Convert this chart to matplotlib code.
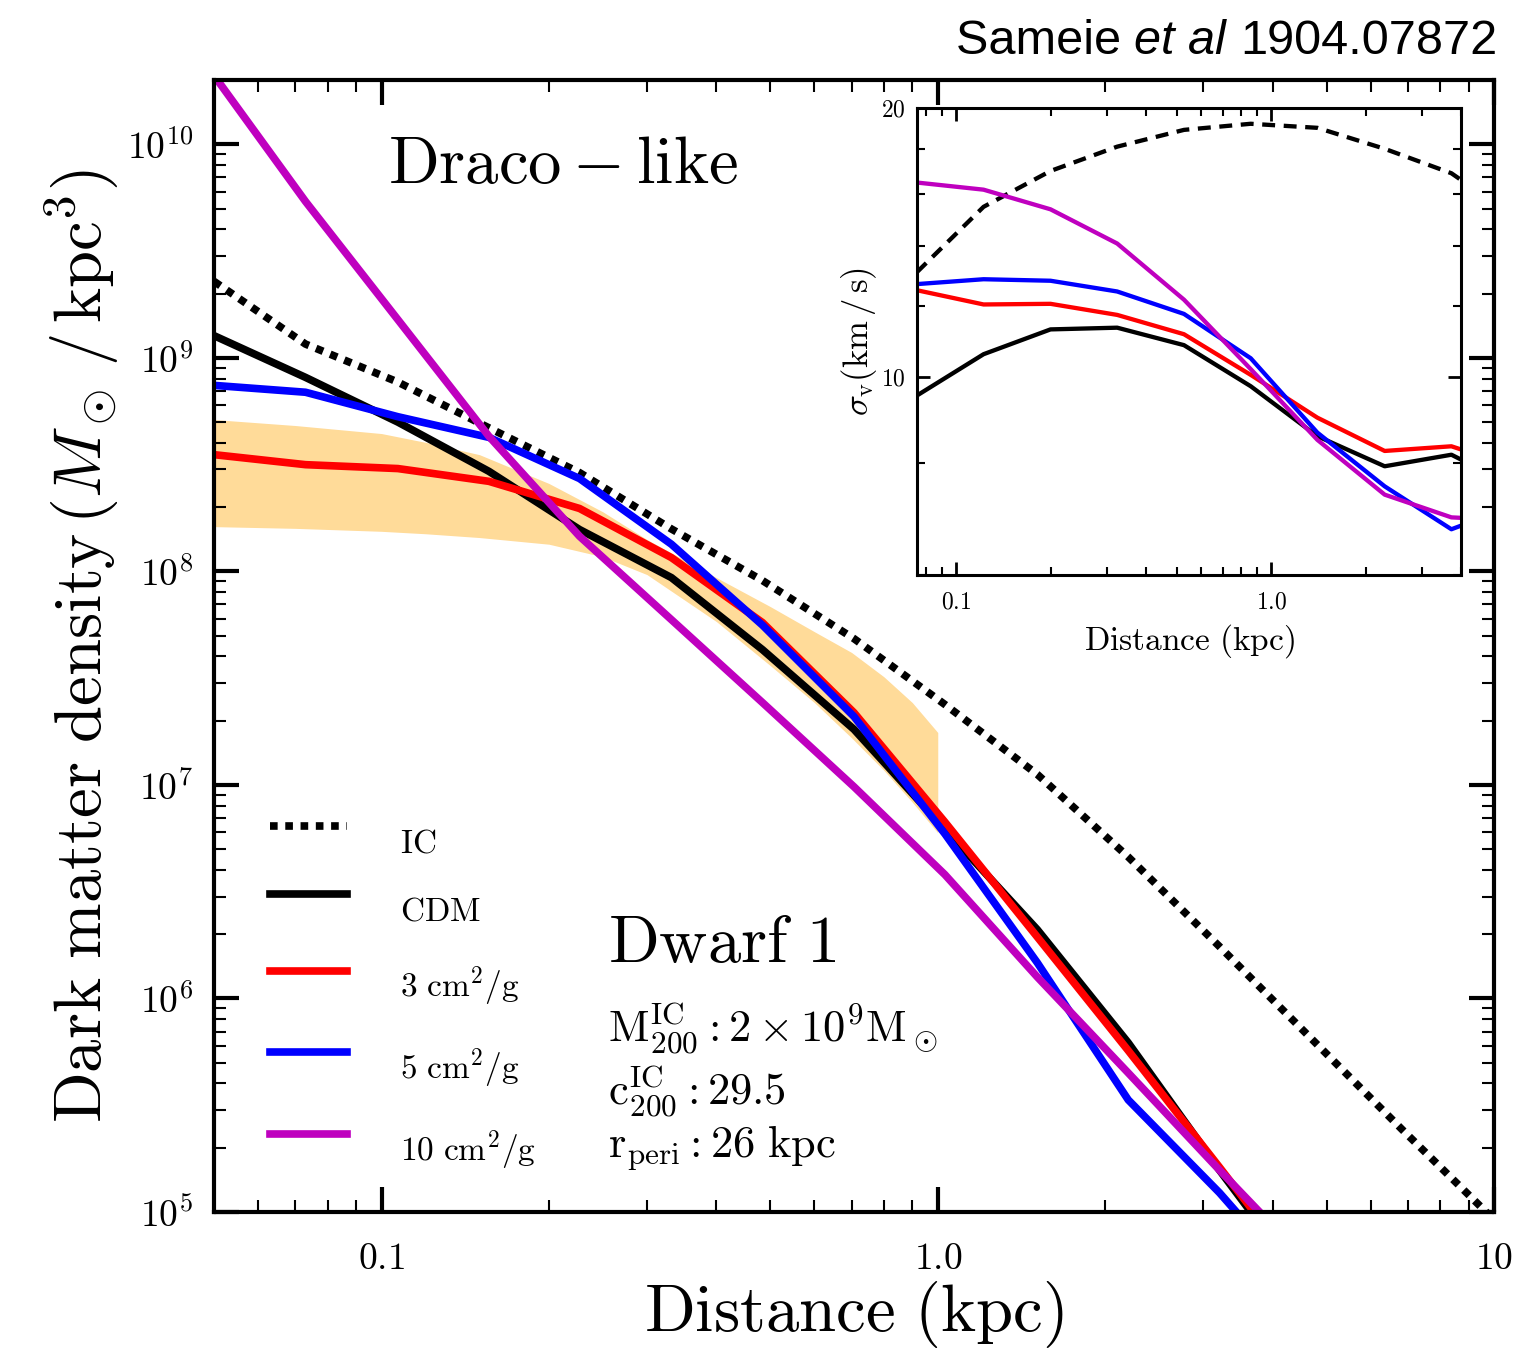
import matplotlib
matplotlib.use("Agg")
import numpy as np
import matplotlib.pyplot as plt
from matplotlib.ticker import FixedLocator, NullFormatter, LogLocator
from matplotlib.legend_handler import HandlerLine2D
from matplotlib.lines import Line2D

plt.rcParams['mathtext.fontset'] = 'cm'
plt.rcParams['font.family'] = 'serif'
plt.rcParams['font.serif'] = ['cmr10', 'DejaVu Serif']
plt.rcParams['axes.formatter.use_mathtext'] = True

# main panel: density profiles (kpc, Msun/kpc^3)
r = [0.050, 0.073, 0.107, 0.156, 0.227, 0.332, 0.484, 0.707, 1.03, 1.51, 2.20, 3.21, 4.69, 6.85, 10.0]
rho_ic = [2.28e9, 1.16e9, 7.7e8, 4.7e8, 2.9e8, 1.58e8, 9.06e7, 4.84e7, 2.38e7, 1.12e7, 4.6e6, 1.75e6, 6.5e5, 2.42e5, 9.2e4]
rho_cdm = [1.27e9, 8.1e8, 5.0e8, 2.94e8, 1.57e8, 9.35e7, 4.3e7, 1.82e7, 6.2e6, 2.1e6, 6.2e5, 1.57e5, 4.2e4]
rho_s3 = [3.52e8, 3.16e8, 3.03e8, 2.64e8, 1.97e8, 1.16e8, 5.76e7, 2.18e7, 6.7e6, 1.94e6, 5.7e5, 1.62e5, 4.5e4]
rho_s5 = [7.43e8, 6.9e8, 5.3e8, 4.24e8, 2.72e8, 1.34e8, 5.6e7, 2.09e7, 5.9e6, 1.47e6, 3.35e5, 1.23e5, 4.0e4]
rho_s10 = [2.1e10, 5.4e9, 1.51e9, 4.29e8, 1.46e8, 5.94e7, 2.43e7, 9.8e6, 3.8e6, 1.26e6, 4.48e5, 1.57e5, 5.6e4]

# observational band for Draco
band_r = [0.05, 0.07, 0.1, 0.12, 0.15, 0.2, 0.25, 0.3, 0.4, 0.5, 0.6, 0.7, 0.8, 0.9, 1.0]
band_hi = [5.14e8, 4.82e8, 4.42e8, 4.02e8, 3.52e8, 2.58e8, 1.9e8, 1.41e8, 9.35e7, 6.84e7, 5.22e7, 4.17e7, 3.21e7, 2.43e7, 1.76e7]
band_lo = [1.62e8, 1.59e8, 1.54e8, 1.50e8, 1.44e8, 1.34e8, 1.17e8, 9.66e7, 5.82e7, 3.62e7, 2.43e7, 1.66e7, 1.17e7, 8.3e6, 5.97e6]

# inset: velocity dispersion (km/s)
r_in = [0.075, 0.122, 0.199, 0.324, 0.528, 0.86, 1.40, 2.29, 3.73, 6.08]
sig_ic = [13.1, 15.5, 17.0, 18.1, 18.9, 19.2, 19.0, 18.0, 16.9, 15.0]
sig_cdm = [9.53, 10.6, 11.3, 11.35, 10.85, 9.76, 8.58, 7.94, 8.18, 7.5]
sig_s3 = [12.5, 12.05, 12.07, 11.73, 11.16, 10.05, 9.0, 8.26, 8.36, 7.9]
sig_s5 = [12.7, 12.86, 12.81, 12.46, 11.76, 10.49, 8.66, 7.54, 6.75, 7.2]
sig_s10 = [16.5, 16.2, 15.4, 14.1, 12.2, 10.2, 8.5, 7.38, 6.96, 6.9]

labels = [r'$\mathrm{IC}$', r'$\mathrm{CDM}$', r'$3\ \mathrm{cm^2/g}$',
          r'$5\ \mathrm{cm^2/g}$', r'$10\ \mathrm{cm^2/g}$']


class RaisedLine(HandlerLine2D):
    # legend lines sit a bit above their labels, as in the paper figure
    def create_artists(self, legend, orig_handle, xdescent, ydescent, width, height, fontsize, trans):
        arts = super().create_artists(legend, orig_handle, xdescent, ydescent, width, height, fontsize, trans)
        for a in arts:
            a.set_ydata(np.asarray(a.get_ydata()) + 10.5)
        return arts


fig = plt.figure(figsize=(15.16, 13.56), dpi=100)
ax = fig.add_axes([0.1412, 0.1062, 0.8443, 0.8348])

ax.fill_between(band_r, band_lo, band_hi, color='orange', alpha=0.4, lw=0)
lw = 5.5
ax.plot(r, rho_ic, color='k', lw=lw, ls=(0, (1, 1)), label=labels[0])
ax.plot(r[:len(rho_cdm)], rho_cdm, color='k', lw=lw, label=labels[1])
ax.plot(r[:len(rho_s3)], rho_s3, color='r', lw=lw, label=labels[2])
ax.plot(r[:len(rho_s5)], rho_s5, color='b', lw=lw, label=labels[3])
ax.plot(r[:len(rho_s10)], rho_s10, color='m', lw=lw, label=labels[4])

ax.set_xscale('log')
ax.set_yscale('log')
ax.set_xlim(0.05, 10)
ax.set_ylim(1e5, 2e10)
ax.set_xticks([0.1, 1.0, 10])
ax.set_xticklabels([r'$0.1$', r'$1.0$', r'$10$'])
ax.yaxis.set_major_locator(LogLocator(base=10, numticks=20))
for s in ax.spines.values():
    s.set_linewidth(3)
ax.tick_params(which='both', direction='in', top=True, right=True)
ax.tick_params(which='major', length=18, width=3)
ax.tick_params(which='minor', length=8.5, width=1.5)
ax.tick_params(axis='x', which='major', labelsize=27, pad=22)
ax.tick_params(axis='y', which='major', labelsize=27, pad=15)
ax.set_xlabel(r'$\mathrm{Distance\ (kpc)}$', fontsize=48, labelpad=2)
ax.set_ylabel(r'$\mathrm{Dark\ matter\ density}\,(M_\odot\,/\,\mathrm{kpc}^3)$', fontsize=48, labelpad=4)

ax.text(0.136, 0.909, r'$\mathrm{Draco} - \mathrm{like}$', transform=ax.transAxes, fontsize=48, va='baseline')
ax.text(0.308, 0.221, r'$\mathrm{Dwarf\ 1}$', transform=ax.transAxes, fontsize=48, va='baseline')
ax.text(0.308, 0.150, r'$\mathrm{M_{200}^{IC}: 2\times 10^9 M_\odot}$', transform=ax.transAxes, fontsize=32, va='baseline')
ax.text(0.308, 0.0945, r'$\mathrm{c_{200}^{IC}: 29.5}$', transform=ax.transAxes, fontsize=32, va='baseline')
ax.text(0.308, 0.0486, r'$\mathrm{r_{peri}: 26\ kpc}$', transform=ax.transAxes, fontsize=32, va='baseline')

leg = ax.legend(loc='upper left', bbox_to_anchor=(0.044, 0.338), frameon=False, fontsize=24,
                handlelength=2.3, handletextpad=1.6, labelspacing=1.15, borderpad=0, borderaxespad=0,
                handler_map={Line2D: RaisedLine()})

# inset
axi = fig.add_axes([0.6049, 0.5760, 0.3588, 0.3444])
lwi = 3.1
axi.plot(r_in, sig_ic, color='k', lw=lwi, ls=(0, (3, 2)))
axi.plot(r_in, sig_cdm, color='k', lw=lwi)
axi.plot(r_in, sig_s3, color='r', lw=lwi)
axi.plot(r_in, sig_s5, color='b', lw=lwi)
axi.plot(r_in, sig_s10, color='m', lw=lwi)
axi.set_xscale('log')
axi.set_yscale('log')
axi.set_xlim(0.075, 4.0)
axi.set_ylim(6, 20)
axi.set_xticks([0.1, 1.0])
axi.set_xticklabels([r'$0.1$', r'$1.0$'])
axi.set_yticks([10, 20])
axi.set_yticklabels([r'$10$', r'$20$'])
axi.yaxis.set_minor_locator(FixedLocator([6, 8, 12, 14, 16, 18]))
axi.yaxis.set_minor_formatter(NullFormatter())
for s in axi.spines.values():
    s.set_linewidth(2.2)
axi.tick_params(which='both', direction='in', top=True, right=True, labelsize=17)
axi.tick_params(which='major', length=9.5, width=2)
axi.tick_params(which='minor', length=6, width=1.5)
axi.tick_params(axis='x', pad=12)
axi.tick_params(axis='y', pad=8)
axi.set_xlabel(r'$\mathrm{Distance\ (kpc)}$', fontsize=24, labelpad=6)
axi.set_ylabel(r'$\sigma_{\rm v}\mathrm{(km\,/\,s)}$', fontsize=25, labelpad=2)

# credit line, right aligned
t1 = fig.text(1497 / 1516, 1 - 42 / 1356, '1904.07872', family='Liberation Sans', fontsize=35,
              ha='right', va='center')
t2 = ax.annotate('et al ', xy=(0, 0), xycoords=t1, ha='right', va='bottom',
                 family='Liberation Sans', style='italic', fontsize=35)
t3 = ax.annotate('Sameie ', xy=(0, 0), xycoords=t2, ha='right', va='bottom',
                 family='Liberation Sans', fontsize=35)

fig.savefig('out.png', dpi=100)
